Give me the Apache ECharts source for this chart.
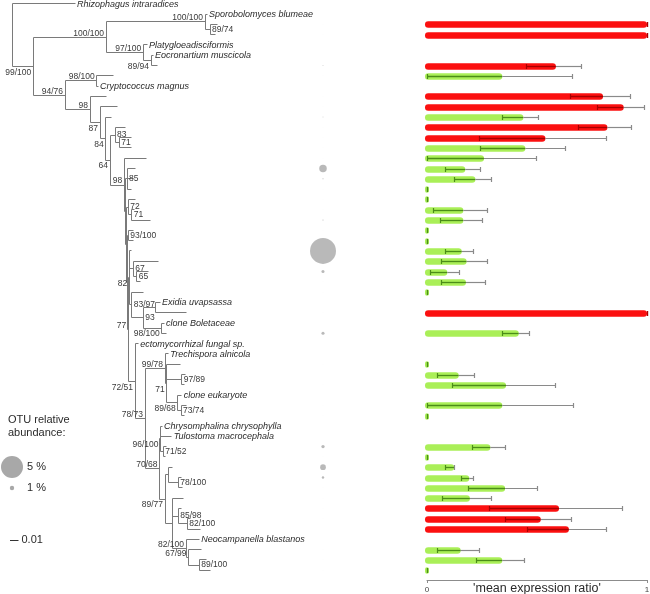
<!DOCTYPE html>
<html><head><meta charset="utf-8">
<script src="https://cdn.jsdelivr.net/npm/echarts@6/dist/echarts.min.js"></script>
<style>html,body{margin:0;padding:0;background:#fff}#c{width:650px;height:594px}</style>
</head><body><div id="c"></div>
<script>
// ---------- DATA ----------
// mean expression ratio per OTU (unnamed tips, top to bottom)
const ratioMean = [1.0,1.0,0.586,0.342,0.80,0.894,0.438,0.82,0.538,0.447,0.259,0.174,0.22,0,0,0.165,0.165,0,0,0.158,0.18,0.092,0.177,0,1.0,0.417,0,0.144,0.359,0.342,0,0.288,0,0.124,0.192,0.355,0.195,0.60,0.517,0.645,0.153,0.342,0];
const ratioLow  = [1.0,1.0,0.45,0.0,0.65,0.776,0.344,0.688,0.238,0.245,0.0,0.086,0.123,0,0,0.029,0.062,0,0,0.085,0.067,0.017,0.068,0,1.0,0.342,0,0.047,0.114,0.0,0,0.205,0,0.085,0.155,0.188,0.071,0.286,0.356,0.456,0.047,0.224,0];
const ratioHigh = [1.0,1.0,0.70,0.66,0.925,0.99,0.506,0.93,0.817,0.629,0.499,0.242,0.294,0,0,0.277,0.251,0,0,0.21,0.273,0.147,0.267,0,1.0,0.468,0,0.215,0.583,0.664,0,0.355,0,0.127,0.21,0.503,0.295,0.888,0.655,0.814,0.24,0.442,0];
// OTU relative abundance (%)
const abundancePct = [0.05,0.05,0.2,0.05,0.05,0.05,0.2,0.05,0.05,0.05,0.05,1.7,0.25,0.05,0.05,0.05,0.25,0.05,0.05,5.9,0.05,0.7,0.05,0.05,0.05,0.7,0.05,0.05,0.05,0.05,0.05,0.75,0.05,1.3,0.55,0.05,0.05,0.05,0.05,0.05,0.05,0.05,0.05];
const abundanceLegend = [5, 1];
const abundanceLegendText = ['5 %', '1 %'];
const ratioTicks = [0, 1];
const scaleBarValue = 0.01;
const treeUnitsPerSubst = 850;

// phylogeny: tip(name, depth) / node(support, depth, children); tips in display order
function T(name, d){ return {name:name, d:d}; }
function N(label, d, children){ return {label:label, d:d, children:children}; }
const tree = N('', 0, [
  T('Rhizophagus intraradices', 62.3),
  N('99/100', 20.6, [
    N('100/100', 93.3, [
      N('100/100', 192.3, [
        T('Sporobolomyces blumeae', 194.3),
        N('89/74', 197.3, [T('', 204.3), T('', 202.3)])
      ]),
      N('97/100', 130.6, [
        T('Platygloeadisciformis', 134.3),
        N('89/94', 138.3, [T('Eocronartium muscicola', 140.3), T('', 144.3)])
      ])
    ]),
    N('94/76', 52.3, [
      N('98/100', 84, [T('', 100.3), T('Cryptococcus magnus', 85.3)]),
      N('98', 77.3, [
        T('', 93.3),
        N('87', 87.3, [
          T('', 105),
          N('84', 93, [
            T('', 99),
            N('64', 97.3, [
              N('83', 102.3, [T('', 112.3), N('71', 106.6, [T('', 119), T('', 119)])]),
              N('98', 111.6, [
                T('', 134),
                N('', 112.6, [
                  N('85', 114.3, [T('', 122.3), T('', 120.6), T('', 118.3)]),
                  N('', 113.3, [
                    N('72', 115.6, [T('', 122.3), N('71', 119, [T('', 121.3), T('', 137.3)])]),
                    N('', 114.3, [
                      N('93/100', 115.6, [T('', 120.3), T('', 120.3)]),
                      N('77', 115.6, [
                        N('82', 116.6, [
                          T('', 118.8),
                          N('67', 120.6, [T('', 145.6), N('65', 124, [T('', 135.6), T('', 127.3)])]),
                          N('83/97', 119, [
                            T('', 130.6),
                            N('93', 130.6, [
                              N('', 142.3, [T('Exidia uvapsassa', 147.3), T('', 174)]),
                              N('98/100', 149, [T('clone Boletaceae', 151.3), T('', 153.3)])
                            ])
                          ])
                        ]),
                        N('72/51', 122.3, [
                          T('ectomycorrhizal fungal sp.', 125.6),
                          N('78/73', 132.3, [
                            N('99/78', 152.3, [
                              T('Trechispora alnicola', 155.6),
                              N('71', 154, [
                                T('', 167.3),
                                N('97/89', 169, [T('', 172.3), T('', 171.3)]),
                                N('89/68', 165, [T('clone eukaryote', 169), N('73/74', 168.3, [T('', 173.3), T('', 171.3)])])
                              ])
                            ]),
                            N('70/68', 146.8, [
                              N('96/100', 147.8, [
                                T('Chrysomphalina chrysophylla', 149.3),
                                T('Tulostoma macrocephala', 159),
                                N('71/52', 150.6, [T('', 153.3), T('', 152.8)])
                              ]),
                              N('89/77', 152.3, [
                                N('', 155.6, [T('', 160), N('78/100', 165.6, [T('', 168.3), T('', 169.3)])]),
                                N('', 160, [
                                  T('', 170.3),
                                  N('85/98', 165.6, [T('', 169), N('82/100', 174.6, [T('', 177.3), T('', 187.3)])]),
                                  N('82/100', 173.3, [
                                    T('Neocampanella blastanos', 186.6),
                                    N('67/99', 175.8, [T('', 189), N('89/100', 186.6, [T('', 193.3), T('', 197.3)])])
                                  ])
                                ])
                              ])
                            ])
                          ])
                        ])
                      ])
                    ])
                  ])
                ])
              ])
            ])
          ])
        ])
      ])
    ])
  ])
]);

// ---------- STYLE ----------
const FONT = '"Liberation Sans", Arial, sans-serif';
const supportPlacement = ['lb','la','la','r','la','lb','la','la','la','lb','lb','lb','r','r','la','r','r','r','r','la','lb','r','r','r','r','lb','lb','la','la','lb','r','lb','r','la','lb','r','lb','r','r','r','la','la','r'];
const RED = '#fb1010', DARKRED = '#a80000', GREEN = '#aaef58', DARKGREEN = '#4b8d18', ERRGRAY = '#8a8a8a';
const TREE = '#7a7a7a', TXT = '#2a2a2a', BUBBLE = '#a8a8a8';
const bubblePxPerPct = 4.4;
const rowPx = 10.3, firstRow = -2, firstRowPx = 3.7;
const yMin = firstRow - firstRowPx / rowPx;

// ---------- LAYOUT OF TREE ----------
let rowCounter = firstRow;
const tips = [], inner = [];
function layout(node){
  if (!node.children){ node.y = rowCounter++; tips.push(node); return; }
  if (node.label) inner.push(node);
  node.children.forEach(layout);
  node.y = (node.children[0].y + node.children[node.children.length-1].y) / 2;
}
layout(tree);
const segs = [];
function edges(node){
  if (!node.children) return;
  const c = node.children;
  segs.push([node.d, c[0].y, node.d, c[c.length-1].y]);
  c.forEach(ch => { segs.push([node.d, ch.y, ch.d, ch.y]); edges(ch); });
}
edges(tree);
const otuRows = tips.filter(t => !t.name).map(t => t.y);
const namedTips = tips.filter(t => t.name);

const crisp = v => Math.round(v - 0.5) + 0.5;

function renderSeg(params, api){
  const a = api.coord([api.value(0), api.value(1)]);
  const b = api.coord([api.value(2), api.value(3)]);
  return {type:'line', shape:{x1:crisp(a[0]), y1:crisp(a[1]), x2:crisp(b[0]), y2:crisp(b[1])},
          style:{stroke:TREE, lineWidth:1}};
}
function renderSupport(params, api){
  const i = api.value(2);
  const p = api.coord([api.value(0), api.value(1)]);
  const pl = supportPlacement[i] || 'la';
  let x, y, align, va;
  if (pl === 'r'){ x = p[0] + 2; y = p[1]; align = 'left'; va = 'middle'; }
  else if (pl === 'la'){ x = p[0] - 2; y = p[1] + 0.5; align = 'right'; va = 'bottom'; }
  else { x = p[0] - 2; y = p[1] + 1.5; align = 'right'; va = 'top'; }
  return {type:'text', x:x, y:y, style:{text:inner[i].label, fill:'#3a3a3a', font:'8.5px ' + FONT, textAlign:align, textVerticalAlign:va}};
}
function renderTip(params, api){
  const i = api.value(2);
  const p = api.coord([api.value(0), api.value(1)]);
  return {type:'text', x:p[0] + 2, y:p[1] + 0.5, style:{text:namedTips[i].name, fill:TXT, font:'italic 9px ' + FONT, textAlign:'left', textVerticalAlign:'middle'}};
}
function renderBar(params, api){
  const v = api.value(0), r = api.value(1), lo = api.value(2), hi = api.value(3);
  const p0 = api.coord([0, r]), pv = api.coord([v, r]), pl = api.coord([lo, r]), ph = api.coord([hi, r]);
  const up = v > 0.5;
  const fill = up ? RED : GREEN, dark = up ? DARKRED : DARKGREEN;
  const h = 6.5, x0 = p0[0] - 2, w = Math.max(pv[0] - x0, 4);
  const yc = Math.round(p0[1]) + 0.5;
  const ch = [{type:'rect', shape:{x:x0, y:yc - h/2, width:w, height:h, r:h/2}, style:{fill:fill}}];
  const innerEnd = Math.min(ph[0], pv[0]);
  if (innerEnd > pl[0]) ch.push({type:'line', shape:{x1:pl[0], y1:yc, x2:innerEnd, y2:yc}, style:{stroke:dark, lineWidth:1.3}});
  if (ph[0] > pv[0]) ch.push({type:'line', shape:{x1:pv[0], y1:yc, x2:ph[0], y2:yc}, style:{stroke:ERRGRAY, lineWidth:1.2}});
  ch.push({type:'line', shape:{x1:crisp(pl[0]), y1:yc - 2.5, x2:crisp(pl[0]), y2:yc + 2.5}, style:{stroke:dark, lineWidth:1.2}});
  ch.push({type:'line', shape:{x1:crisp(ph[0]), y1:yc - 2.5, x2:crisp(ph[0]), y2:yc + 2.5}, style:{stroke:(ph[0] > pv[0] ? ERRGRAY : dark), lineWidth:1.2}});
  return {type:'group', children:ch};
}

const chart = echarts.init(document.getElementById('c'), null, {renderer:'canvas'});
const treeYAxis = {type:'value', inverse:true, min:yMin, max:yMin + 594/rowPx, show:false};
chart.setOption({
  animation:false,
  backgroundColor:'#fff',
  grid:[
    {left:0, top:0, width:650, height:594, outerBoundsMode:'none', containLabel:false},
    {left:427, top:0, width:220, height:580, outerBoundsMode:'none', containLabel:false},
    {left:313, top:0, width:20, height:594, outerBoundsMode:'none', containLabel:false}
  ],
  xAxis:[
    {gridIndex:0, type:'value', min:-12.7, max:637.3, show:false},
    {gridIndex:1, type:'value', min:ratioTicks[0], max:ratioTicks[ratioTicks.length-1], interval:1,
     axisLine:{show:true, onZero:false, lineStyle:{color:'#8c8c8c'}},
     axisTick:{show:true, length:3, lineStyle:{color:'#8c8c8c'}},
     splitLine:{show:false},
     axisLabel:{fontSize:8, color:'#444', margin:6, fontFamily:FONT},
     name:"'mean expression ratio'", nameLocation:'middle', nameGap:2, nameMoveOverlap:false,
     nameTextStyle:{fontSize:12.5, color:TXT, fontFamily:FONT, verticalAlign:'top'}},
    {gridIndex:2, type:'category', data:['OTU'], show:false}
  ],
  yAxis:[
    Object.assign({gridIndex:0}, treeYAxis),
    {gridIndex:1, type:'value', inverse:true, min:yMin, max:yMin + 580/rowPx, show:false},
    Object.assign({gridIndex:2}, treeYAxis)
  ],
  series:[
    {type:'custom', xAxisIndex:0, yAxisIndex:0, silent:true, renderItem:renderSeg,
     encode:{x:[0,2], y:[1,3]}, data:segs},
    {type:'custom', xAxisIndex:0, yAxisIndex:0, silent:true, renderItem:renderSupport,
     encode:{x:0, y:1}, data:inner.map((n,i) => [n.d, n.y, i])},
    {type:'custom', xAxisIndex:0, yAxisIndex:0, silent:true, renderItem:renderTip,
     encode:{x:0, y:1}, data:namedTips.map((n,i) => [n.d, n.y, i])},
    {type:'scatter', xAxisIndex:2, yAxisIndex:2, silent:true,
     symbolSize:d => bubblePxPerPct * d[2], itemStyle:{color:BUBBLE},
     data:otuRows.map((r,i) => [0, r, abundancePct[i]])},
    {type:'custom', xAxisIndex:1, yAxisIndex:1, silent:true, renderItem:renderBar,
     encode:{x:0, y:1}, data:otuRows.map((r,i) => [ratioMean[i], r, ratioLow[i], ratioHigh[i]])}
  ]
});

// legend and scale bar
const x0px = chart.convertToPixel({xAxisIndex:0}, 0);
const x1px = chart.convertToPixel({xAxisIndex:0}, scaleBarValue * treeUnitsPerSubst);
const barLen = x1px - x0px;
const g = [
  {type:'text', left:8, top:413, style:{text:'OTU relative\nabundance:', font:'11px ' + FONT, fill:TXT, lineHeight:13}}
];
const legendY = [467, 488];
abundanceLegend.forEach((v,i) => {
  g.push({type:'circle', shape:{cx:12, cy:legendY[i], r:bubblePxPerPct * v / 2}, style:{fill:BUBBLE}});
  g.push({type:'text', x:27, y:legendY[i], style:{text:abundanceLegendText[i], font:'11px ' + FONT, fill:TXT, textVerticalAlign:'middle'}});
});
g.push({type:'line', shape:{x1:10, y1:540.5, x2:10 + barLen, y2:540.5}, style:{stroke:'#333', lineWidth:1}});
g.push({type:'text', x:13 + barLen, y:540, style:{text:String(scaleBarValue), font:'11px ' + FONT, fill:TXT, textVerticalAlign:'middle'}});
chart.setOption({graphic:g});
</script></body></html>
